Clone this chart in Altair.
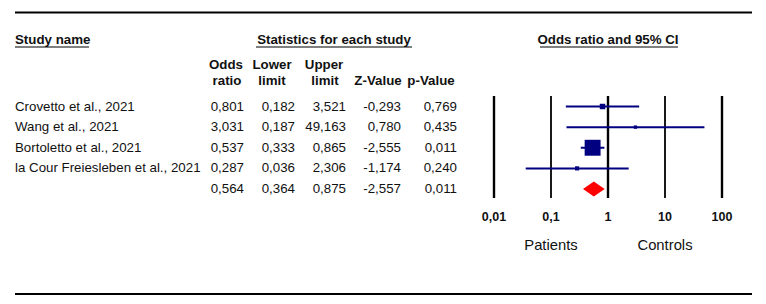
import math
import altair as alt
import pandas as pd

# ---------------- data ----------------
studies = ["Crovetto et al., 2021", "Wang et al., 2021", "Bortoletto et al., 2021",
           "la Cour Freiesleben et al., 2021"]
odds_ratio = [0.801, 3.031, 0.537, 0.287]
lower_limit = [0.182, 0.187, 0.333, 0.036]
upper_limit = [3.521, 49.163, 0.865, 2.306]
z_value = [-0.293, 0.780, -2.555, -1.174]
p_value = [0.769, 0.435, 0.011, 0.240]

summary_or = 0.564
summary_lower = 0.364
summary_upper = 0.875
summary_z = -2.557
summary_p = 0.011

axis_ticks = [0.01, 0.1, 1, 10, 100]
axis_labels = ["0,01", "0,1", "1", "10", "100"]
side_labels = ["Patients", "Controls"]
side_positions = [0.1, 10]

# ---------------- derived tables ----------------
def fmt(v):
    return f"{v:.3f}".replace(".", ",")

# inverse-variance weights (box area proportional to weight)
inv_var = []
for lo, up in zip(lower_limit, upper_limit):
    se = (math.log(up) - math.log(lo)) / (2 * 1.959964)
    inv_var.append(1 / se ** 2)
weights = [100 * w / sum(inv_var) for w in inv_var]

n = len(studies)
table = pd.DataFrame({
    "row": list(range(n)) + [n],
    "name": studies + [""],
    "or_s": [fmt(v) for v in odds_ratio + [summary_or]],
    "lo_s": [fmt(v) for v in lower_limit + [summary_lower]],
    "up_s": [fmt(v) for v in upper_limit + [summary_upper]],
    "z_s": [fmt(v) for v in z_value + [summary_z]],
    "p_s": [fmt(v) for v in p_value + [summary_p]],
})
study_df = pd.DataFrame({
    "row": list(range(n)),
    "or": odds_ratio,
    "lo": lower_limit,
    "up": upper_limit,
    "w": weights,
})
half_h = 0.36  # diamond half height in row units
diamond_df = pd.DataFrame({
    "x": [summary_lower, summary_or, summary_upper],
    "y": [n, n - half_h, n],
    "y2": [n, n + half_h, n],
})
ticks_df = pd.DataFrame({"tick": axis_ticks, "label": axis_labels})
sides_df = pd.DataFrame({"pos": side_positions, "label": side_labels})

# ---------------- styling ----------------
FONT = "Arial, Liberation Sans, sans-serif"
TXT = "#111111"
NAVY = "#000080"
RED = "#ff0000"
BODY = 13.3
HEAD = 13.3

xscale = alt.Scale(type="log", domain=[0.01, 100], range=[486, 714])
yscale = alt.Scale(domain=[0, n], range=[98.5, 181])

def header(text, x, y, align="center", size=HEAD):
    return alt.Chart(pd.DataFrame({"t": [text]})).mark_text(
        align=align, baseline="middle", font=FONT, fontSize=size,
        fontWeight="bold", color=TXT
    ).encode(x=alt.value(x), y=alt.value(y), text="t:N")

def hrule(x1, x2, y, w):
    return alt.Chart(pd.DataFrame({"a": [0]})).mark_rule(
        color="black", strokeWidth=w
    ).encode(x=alt.value(x1), x2=alt.value(x2), y=alt.value(y))

layers = []
layers.append(hrule(7, 744, 4.5, 2.2))
layers.append(hrule(7, 744, 286, 2.2))

layers.append(header("Study name", 7, 32, align="left"))
layers.append(hrule(7, 81, 39, 1.2))
layers.append(header("Statistics for each study", 326, 32))
layers.append(hrule(248, 404, 39, 1.2))
layers.append(header("Odds ratio and 95% CI", 600, 32))
layers.append(hrule(532, 670, 39, 1.2))

for txt, x, y in [("Odds", 218, 57), ("ratio", 219, 73), ("Lower", 264, 57),
                  ("limit", 264, 73), ("Upper", 316, 57), ("limit", 317, 73),
                  ("Z-Value", 370, 73), ("p-Value", 423, 73)]:
    layers.append(header(txt, x, y))

base_txt = alt.Chart(table)
layers.append(base_txt.mark_text(align="left", baseline="middle", font=FONT,
                                 fontSize=BODY, color=TXT).encode(
    x=alt.value(7), y=alt.Y("row:Q", scale=yscale, axis=None), text="name:N"))
for col, x in [("or_s", 236), ("lo_s", 287), ("up_s", 338), ("z_s", 393), ("p_s", 449)]:
    layers.append(base_txt.mark_text(align="right", baseline="middle", font=FONT,
                                     fontSize=BODY, color=TXT).encode(
        x=alt.value(x), y=alt.Y("row:Q", scale=yscale, axis=None), text=f"{col}:N"))

# reference lines
thick = ticks_df[ticks_df["tick"].isin([0.01, 1, 100])]
thin = ticks_df[~ticks_df["tick"].isin([0.01, 1, 100])]
layers.append(alt.Chart(thick).mark_rule(color="black", strokeWidth=2.4).encode(
    x=alt.X("tick:Q", scale=xscale, axis=None), y=alt.value(88), y2=alt.value(190)))
layers.append(alt.Chart(thin).mark_rule(color="black", strokeWidth=1.8).encode(
    x=alt.X("tick:Q", scale=xscale, axis=None), y=alt.value(88), y2=alt.value(190)))

# CI lines and boxes
layers.append(alt.Chart(study_df).mark_rule(color=NAVY, strokeWidth=2).encode(
    x=alt.X("lo:Q", scale=xscale, axis=None), x2="up:Q",
    y=alt.Y("row:Q", scale=yscale, axis=None)))
layers.append(alt.Chart(study_df).mark_square(color=NAVY, opacity=1).encode(
    x=alt.X("or:Q", scale=xscale, axis=None),
    y=alt.Y("row:Q", scale=yscale, axis=None),
    size=alt.Size("w:Q", scale=alt.Scale(domain=[0, 100], range=[4, 300]), legend=None)))

# summary diamond
layers.append(alt.Chart(diamond_df).mark_area(color=RED, opacity=1, orient="vertical").encode(
    x=alt.X("x:Q", scale=xscale, axis=None),
    y=alt.Y("y:Q", scale=yscale, axis=None), y2="y2:Q"))

# tick labels and side labels
layers.append(alt.Chart(ticks_df).mark_text(font=FONT, fontSize=12.5, fontWeight="bold",
                                            color=TXT, baseline="middle").encode(
    x=alt.X("tick:Q", scale=xscale, axis=None), y=alt.value(209), text="label:N"))
layers.append(alt.Chart(sides_df).mark_text(font=FONT, fontSize=14.8, color=TXT,
                                            baseline="middle").encode(
    x=alt.X("pos:Q", scale=xscale, axis=None), y=alt.value(238), text="label:N"))

chart = alt.layer(*layers).properties(
    width=750, height=288, padding=0,
    autosize=alt.AutoSizeParams(type="none"),
    background="white",
).configure_view(stroke=None)

chart.save("out.html", embed_options={"renderer": "svg", "actions": False})
